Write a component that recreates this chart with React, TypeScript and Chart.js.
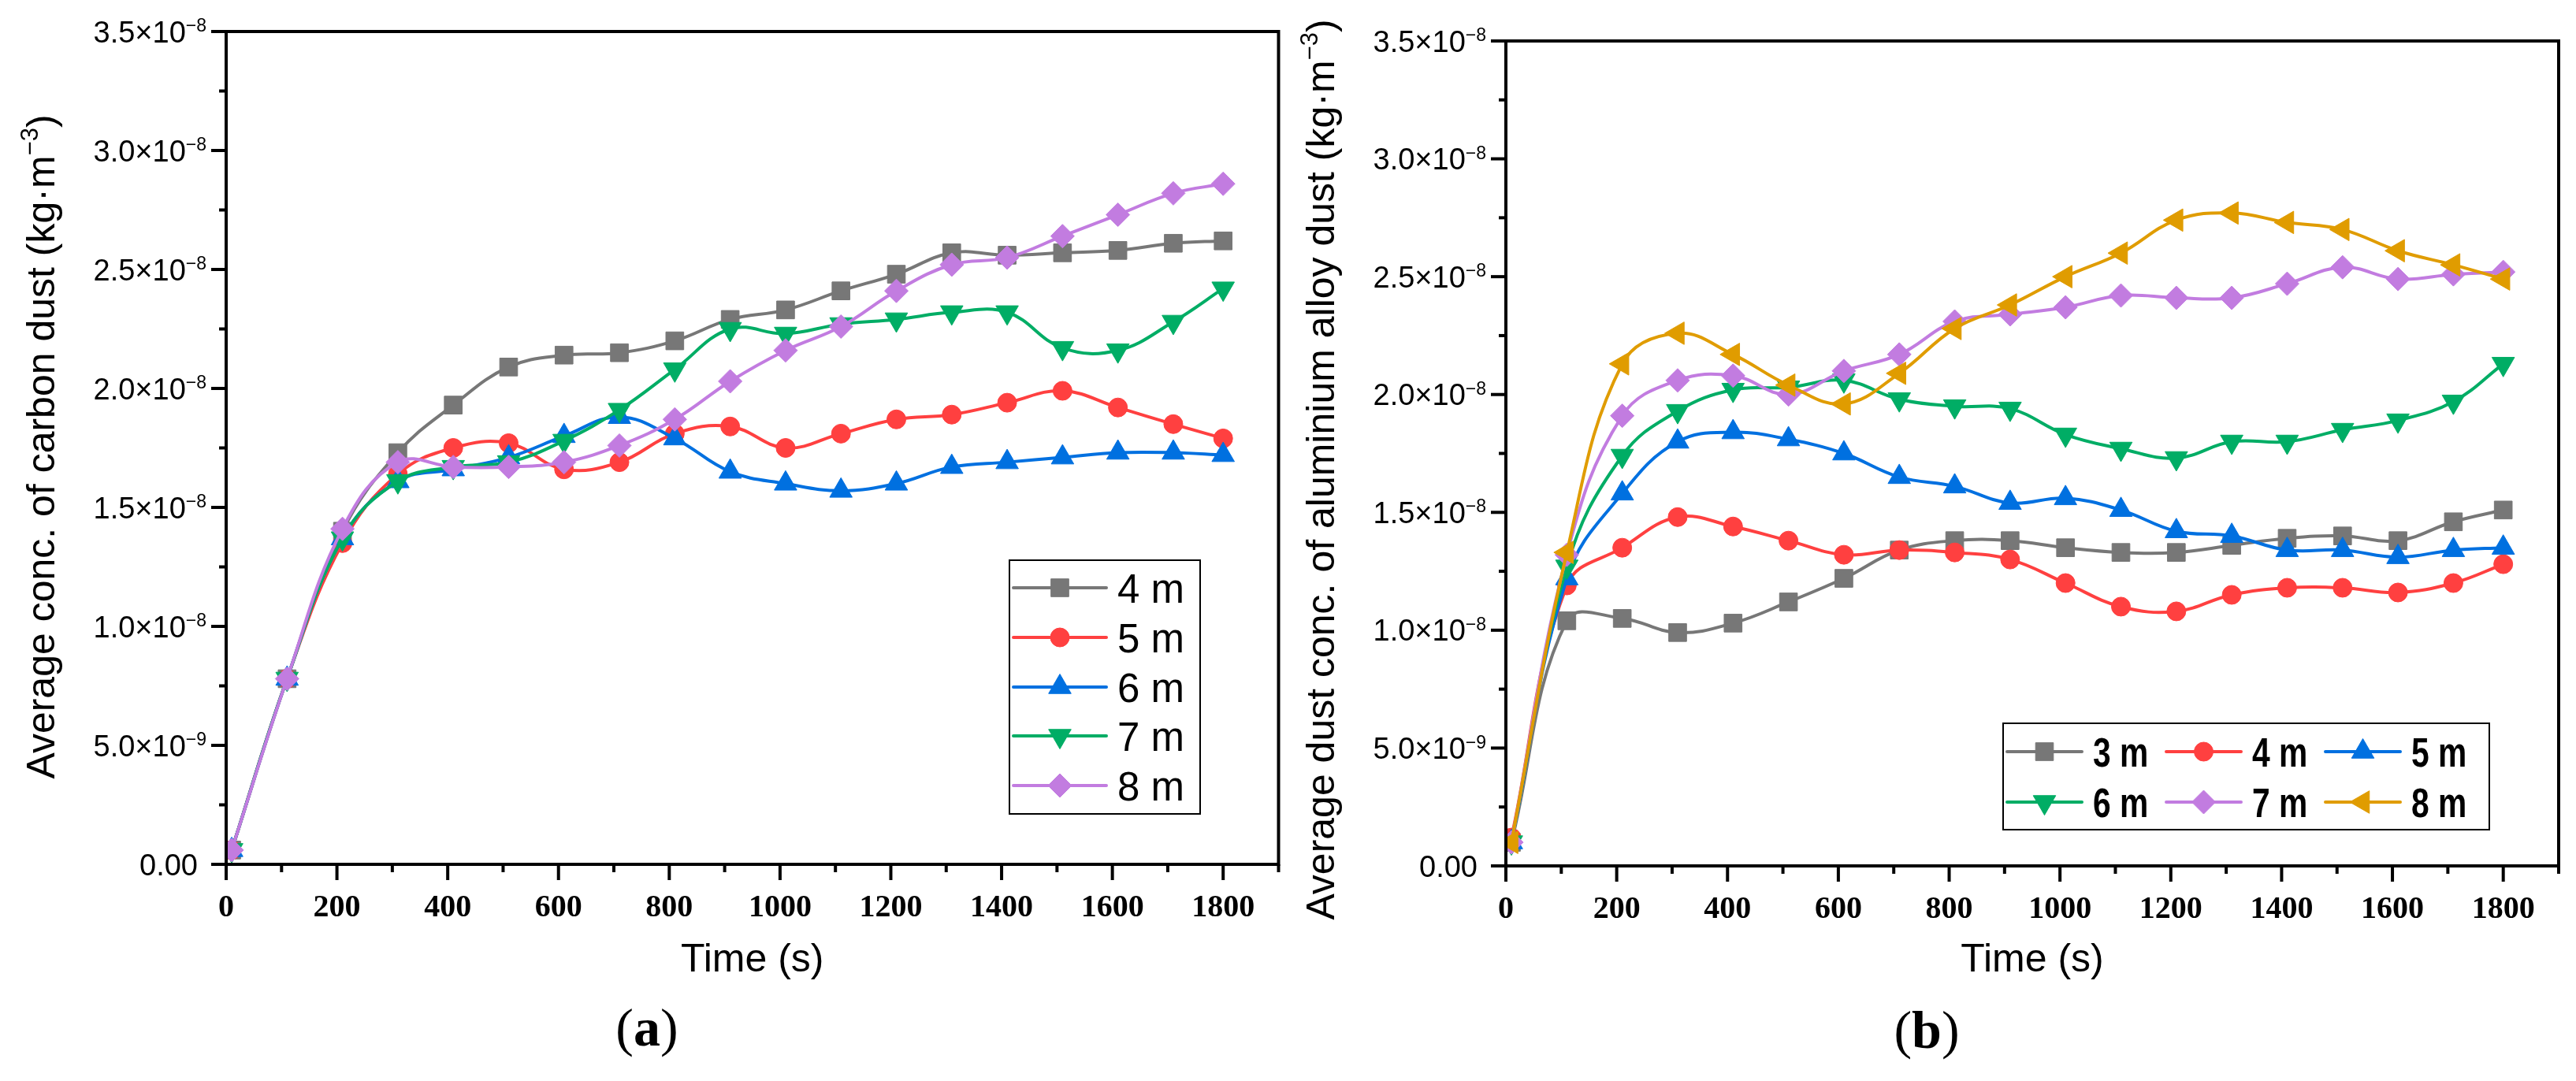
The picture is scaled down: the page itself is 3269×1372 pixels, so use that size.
import React, { useEffect, useRef } from 'react';
import { Chart, registerables } from 'chart.js';
import { drawPoint } from 'chart.js/helpers';

Chart.register(...registerables);

// ---------- data (values in units of 1e-8 kg·m^-3) ----------
const timeS = [10, 110, 210, 310, 410, 510, 610, 710, 810, 910, 1010, 1110, 1210, 1310, 1410, 1510, 1610, 1710, 1800];

// (a) carbon dust
const carbon4m = [0.06, 0.78, 1.40, 1.73, 1.93, 2.09, 2.14, 2.15, 2.20, 2.29, 2.33, 2.41, 2.48, 2.57, 2.56, 2.57, 2.58, 2.61, 2.62];
const carbon5m = [0.06, 0.78, 1.35, 1.64, 1.75, 1.77, 1.66, 1.69, 1.81, 1.84, 1.75, 1.81, 1.87, 1.89, 1.94, 1.99, 1.92, 1.85, 1.79];
const carbon6m = [0.06, 0.78, 1.37, 1.61, 1.66, 1.71, 1.80, 1.88, 1.79, 1.65, 1.60, 1.57, 1.60, 1.67, 1.69, 1.71, 1.73, 1.73, 1.72];
const carbon7m = [0.06, 0.78, 1.37, 1.61, 1.67, 1.69, 1.78, 1.91, 2.08, 2.25, 2.23, 2.27, 2.29, 2.32, 2.32, 2.17, 2.16, 2.28, 2.42];
const carbon8m = [0.06, 0.78, 1.41, 1.69, 1.67, 1.67, 1.69, 1.76, 1.87, 2.03, 2.16, 2.26, 2.41, 2.52, 2.55, 2.64, 2.73, 2.82, 2.86];

// (b) aluminium alloy dust
const alu3m = [0.10, 1.04, 1.05, 0.99, 1.03, 1.12, 1.22, 1.34, 1.38, 1.38, 1.35, 1.33, 1.33, 1.36, 1.39, 1.40, 1.38, 1.46, 1.51];
const alu4m = [0.12, 1.19, 1.35, 1.48, 1.44, 1.38, 1.32, 1.34, 1.33, 1.30, 1.20, 1.10, 1.08, 1.15, 1.18, 1.18, 1.16, 1.20, 1.28];
const alu5m = [0.10, 1.22, 1.58, 1.80, 1.84, 1.81, 1.75, 1.65, 1.61, 1.54, 1.56, 1.51, 1.42, 1.40, 1.34, 1.34, 1.31, 1.34, 1.35];
const alu6m = [0.10, 1.27, 1.74, 1.93, 2.02, 2.03, 2.06, 1.98, 1.95, 1.94, 1.83, 1.77, 1.73, 1.80, 1.80, 1.85, 1.89, 1.97, 2.13];
const alu7m = [0.10, 1.32, 1.91, 2.06, 2.08, 2.00, 2.10, 2.17, 2.31, 2.34, 2.37, 2.42, 2.41, 2.41, 2.47, 2.54, 2.49, 2.51, 2.52];
const alu8m = [0.10, 1.33, 2.13, 2.26, 2.17, 2.04, 1.96, 2.09, 2.28, 2.38, 2.50, 2.60, 2.74, 2.77, 2.73, 2.70, 2.61, 2.55, 2.49];

const labelsA = ['4 m', '5 m', '6 m', '7 m', '8 m'];
const labelsB = ['3 m', '4 m', '5 m', '6 m', '7 m', '8 m'];

// tick labels
const xTickValues = [0, 200, 400, 600, 800, 1000, 1200, 1400, 1600, 1800];
const xTickLabels = ['0', '200', '400', '600', '800', '1000', '1200', '1400', '1600', '1800'];
const yTickValues = [0, 0.5, 1.0, 1.5, 2.0, 2.5, 3.0, 3.5];
const yTickMantissas = ['0.00', '5.0', '1.0', '1.5', '2.0', '2.5', '3.0', '3.5'];
const yTickExponents = ['', '\u22129', '\u22128', '\u22128', '\u22128', '\u22128', '\u22128', '\u22128'];

// ---------- styles ----------
const GRAY = '#777777';
const RED = '#FF4040';
const BLUE = '#0070E0';
const GREEN = '#00AD65';
const PURPLE = '#C27CE0';
const ORANGE = '#E09C00';

type Marker = { style: string; rotation: number; radius: number };
const SQUARE: Marker = { style: 'rect', rotation: 0, radius: 16 };
const CIRCLE: Marker = { style: 'circle', rotation: 0, radius: 12 };
const TRI_UP: Marker = { style: 'triangle', rotation: 0, radius: 16.5 };
const TRI_DOWN: Marker = { style: 'triangle', rotation: 180, radius: 16.5 };
const DIAMOND: Marker = { style: 'rectRot', rotation: 0, radius: 15 };
const TRI_LEFT: Marker = { style: 'triangle', rotation: 270, radius: 16.5 };

const SANS = "'Liberation Sans', Arial, sans-serif";
const SERIF = "'Liberation Serif', 'Times New Roman', serif";

function buildDatasets(series: { label: string; data: number[]; color: string; m: Marker }[]) {
  return series.map((s, i) => ({
    label: s.label,
    data: timeS.map((t, j) => ({ x: t, y: s.data[j] })),
    borderColor: s.color,
    backgroundColor: s.color,
    borderWidth: 4,
    pointStyle: s.m.style,
    pointRotation: s.m.rotation,
    pointRadius: s.m.radius,
    pointHoverRadius: s.m.radius,
    pointBackgroundColor: s.color,
    pointBorderColor: s.color,
    pointBorderWidth: 1,
    tension: 0.4,
    order: series.length - i,
  }));
}

function drawSup(
  ctx: CanvasRenderingContext2D, x: number, baseline: number, main: string, sup: string, tail: string,
  font: string, F: number, supF: number, rise: number, align: 'left' | 'right' | 'center'
) {
  ctx.font = `${F}px ${font}`;
  const wMain = ctx.measureText(main).width;
  const wTail = ctx.measureText(tail).width;
  ctx.font = `${supF}px ${font}`;
  const wSup = ctx.measureText(sup).width;
  const total = wMain + wSup + wTail;
  let x0 = x;
  if (align === 'right') x0 = x - total;
  if (align === 'center') x0 = x - total / 2;
  ctx.textAlign = 'left';
  ctx.textBaseline = 'alphabetic';
  ctx.font = `${F}px ${font}`;
  ctx.fillText(main, x0, baseline);
  ctx.font = `${supF}px ${font}`;
  ctx.fillText(sup, x0 + wMain, baseline - rise);
  ctx.font = `${F}px ${font}`;
  ctx.fillText(tail, x0 + wMain + wSup, baseline);
}

type LegendCfg = {
  box: [number, number, number, number];
  items: { x: number; y: number }[];
  lineLen: number;
  textDx: number;
  font: string;
  textScaleX: number;
};

type PanelCfg = {
  yTitleMain: string;
  yTitleX: number;
  yTitleY: number;
  panelLetter: string;
  panelX: number;
  panelY: number;
  legend: LegendCfg;
};

function decoPlugin(cfg: PanelCfg) {
  return {
    id: 'deco',
    afterDraw(chart: any) {
      const ctx: CanvasRenderingContext2D = chart.ctx;
      const { left, right, top, bottom } = chart.chartArea;
      const xs = chart.scales.x;
      const ys = chart.scales.y;
      ctx.save();
      ctx.strokeStyle = '#000';
      ctx.fillStyle = '#000';
      ctx.lineWidth = 4;
      ctx.lineJoin = 'miter';
      ctx.beginPath();
      ctx.rect(left, top, right - left, bottom - top);
      ctx.stroke();

      // x ticks (major 200, minor 100)
      xs.ticks.forEach((t: any) => {
        const px = xs.getPixelForValue(t.value);
        const major = Math.round(t.value) % 200 === 0;
        ctx.beginPath();
        ctx.moveTo(px, bottom);
        ctx.lineTo(px, bottom + (major ? 20 : 10));
        ctx.stroke();
      });
      // y ticks (major 0.5, minor 0.25)
      ys.ticks.forEach((t: any) => {
        const py = ys.getPixelForValue(t.value);
        const major = Math.round(t.value * 4) % 2 === 0;
        ctx.beginPath();
        ctx.moveTo(left, py);
        ctx.lineTo(left - (major ? 19 : 9), py);
        ctx.stroke();
      });

      // x tick labels
      ctx.font = `bold 40px ${SERIF}`;
      ctx.textAlign = 'center';
      ctx.textBaseline = 'alphabetic';
      xTickValues.forEach((v, i) => {
        ctx.fillText(xTickLabels[i], xs.getPixelForValue(v), bottom + 66);
      });

      // y tick labels
      yTickValues.forEach((v, i) => {
        const py = ys.getPixelForValue(v);
        const F = 38;
        const base = py + 0.358 * F;
        if (yTickExponents[i] === '') {
          ctx.font = `${F}px ${SANS}`;
          ctx.textAlign = 'right';
          ctx.fillText(yTickMantissas[i], left - 36, base);
        } else {
          drawSup(ctx, left - 25, base, yTickMantissas[i] + '\u00D710', yTickExponents[i], '', SANS, F, 23, 13.5, 'right');
        }
      });

      // x title
      ctx.font = `50px ${SANS}`;
      ctx.textAlign = 'center';
      ctx.fillText('Time (s)', (left + right) / 2, 1233);

      // y title
      ctx.save();
      ctx.translate(cfg.yTitleX, cfg.yTitleY);
      ctx.rotate(-Math.PI / 2);
      drawSup(ctx, 0, 0.358 * 50, cfg.yTitleMain, '\u22123', ')', SANS, 50, 31, 21, 'center');
      ctx.restore();

      // panel label
      ctx.textBaseline = 'alphabetic';
      ctx.textAlign = 'left';
      ctx.font = `68px ${SERIF}`;
      const wp = ctx.measureText('(').width;
      const wpr = ctx.measureText(')').width;
      ctx.font = `bold 68px ${SERIF}`;
      const wl = ctx.measureText(cfg.panelLetter).width;
      const x0 = cfg.panelX - (wp + wl + wpr) / 2;
      ctx.font = `68px ${SERIF}`;
      ctx.fillText('(', x0, cfg.panelY);
      ctx.font = `bold 68px ${SERIF}`;
      ctx.fillText(cfg.panelLetter, x0 + wp, cfg.panelY);
      ctx.font = `68px ${SERIF}`;
      ctx.fillText(')', x0 + wp + wl, cfg.panelY);

      // legend
      const lg = cfg.legend;
      ctx.lineWidth = 2;
      ctx.strokeStyle = '#000';
      ctx.strokeRect(lg.box[0], lg.box[1], lg.box[2] - lg.box[0], lg.box[3] - lg.box[1]);
      chart.data.datasets.forEach((ds: any, i: number) => {
        const it = lg.items[i];
        ctx.strokeStyle = ds.borderColor;
        ctx.fillStyle = ds.borderColor;
        ctx.lineWidth = 4;
        ctx.lineCap = 'round';
        ctx.beginPath();
        ctx.moveTo(it.x, it.y);
        ctx.lineTo(it.x + lg.lineLen, it.y);
        ctx.stroke();
        ctx.lineCap = 'butt';
        ctx.lineWidth = 1;
        drawPoint(ctx, { pointStyle: ds.pointStyle, rotation: ds.pointRotation, radius: ds.pointRadius, borderWidth: 1 } as any, it.x + lg.lineLen / 2, it.y);
        ctx.fillStyle = '#000';
        ctx.font = lg.font;
        ctx.textAlign = 'left';
        ctx.textBaseline = 'alphabetic';
        ctx.save();
        ctx.translate(it.x + lg.textDx, it.y + 19);
        ctx.scale(lg.textScaleX, 1);
        ctx.fillText(ds.label, 0, 0);
        ctx.restore();
      });
      ctx.restore();
    },
  };
}

function makeConfig(datasets: any[], pad: { top: number; right: number }, yWidth: number, xHeight: number, cfg: PanelCfg) {
  return {
    type: 'line' as const,
    data: { datasets },
    options: {
      animation: false as const,
      responsive: false,
      maintainAspectRatio: false,
      devicePixelRatio: 1,
      layout: { padding: { left: 0, top: pad.top, right: pad.right, bottom: 0 } },
      plugins: { legend: { display: false }, tooltip: { enabled: false }, title: { display: false } },
      events: [],
      scales: {
        x: {
          type: 'linear' as const,
          min: 0,
          max: 1900,
          ticks: { display: false, stepSize: 100 },
          grid: { display: false },
          border: { display: false },
          afterFit: (s: any) => { s.height = xHeight; },
        },
        y: {
          type: 'linear' as const,
          min: 0,
          max: 3.5,
          ticks: { display: false, stepSize: 0.25 },
          grid: { display: false },
          border: { display: false },
          afterFit: (s: any) => { s.width = yWidth; },
        },
      },
    },
    plugins: [decoPlugin(cfg)],
  };
}

function Panel(props: { left: number; width: number; config: any }) {
  const ref = useRef<HTMLCanvasElement | null>(null);
  useEffect(() => {
    if (!ref.current) return;
    const chart = new Chart(ref.current, props.config);
    return () => chart.destroy();
  }, []);
  return (
    <canvas
      ref={ref}
      width={props.width}
      height={1372}
      style={{ position: 'absolute', left: props.left, top: 0, width: props.width, height: 1372 }}
    />
  );
}

export default function App() {
  const dsA = buildDatasets([
    { label: labelsA[0], data: carbon4m, color: GRAY, m: SQUARE },
    { label: labelsA[1], data: carbon5m, color: RED, m: CIRCLE },
    { label: labelsA[2], data: carbon6m, color: BLUE, m: TRI_UP },
    { label: labelsA[3], data: carbon7m, color: GREEN, m: TRI_DOWN },
    { label: labelsA[4], data: carbon8m, color: PURPLE, m: DIAMOND },
  ]);
  const dsB = buildDatasets([
    { label: labelsB[0], data: alu3m, color: GRAY, m: SQUARE },
    { label: labelsB[1], data: alu4m, color: RED, m: CIRCLE },
    { label: labelsB[2], data: alu5m, color: BLUE, m: TRI_UP },
    { label: labelsB[3], data: alu6m, color: GREEN, m: TRI_DOWN },
    { label: labelsB[4], data: alu7m, color: PURPLE, m: DIAMOND },
    { label: labelsB[5], data: alu8m, color: ORANGE, m: TRI_LEFT },
  ]);

  const cfgA = makeConfig(dsA, { top: 40, right: 15 }, 287, 275, {
    yTitleMain: 'Average conc. of carbon dust (kg\u00B7m',
    yTitleX: 51,
    yTitleY: 567,
    panelLetter: 'a',
    panelX: 821,
    panelY: 1327,
    legend: {
      box: [1281, 711, 1523, 1033],
      items: [
        { x: 1286, y: 746 },
        { x: 1286, y: 809 },
        { x: 1286, y: 872 },
        { x: 1286, y: 934 },
        { x: 1286, y: 997 },
      ],
      lineLen: 118,
      textDx: 132,
      font: `51px ${SANS}`,
      textScaleX: 1,
    },
  });

  const offB = 1640;
  const cfgB = makeConfig(dsB, { top: 52, right: 22 }, 1911 - offB, 1372 - 1099, {
    yTitleMain: 'Average dust conc. of aluminium alloy dust (kg\u00B7m',
    yTitleX: 1675 - offB,
    yTitleY: 596,
    panelLetter: 'b',
    panelX: 2445 - offB,
    panelY: 1330,
    legend: {
      box: [2542 - offB, 918, 3159 - offB, 1053],
      items: [
        { x: 2547 - offB, y: 954 },
        { x: 2749 - offB, y: 954 },
        { x: 2951 - offB, y: 954 },
        { x: 2547 - offB, y: 1018 },
        { x: 2749 - offB, y: 1018 },
        { x: 2951 - offB, y: 1018 },
      ],
      lineLen: 95,
      textDx: 109,
      font: `bold 51px ${SANS}`,
      textScaleX: 0.8,
    },
  });

  return (
    <div style={{ position: 'absolute', left: 0, top: 0, width: 3269, height: 1372, background: '#fff', overflow: 'hidden' }}>
      <Panel left={0} width={1640} config={cfgA} />
      <Panel left={1640} width={1629} config={cfgB} />
    </div>
  );
}
